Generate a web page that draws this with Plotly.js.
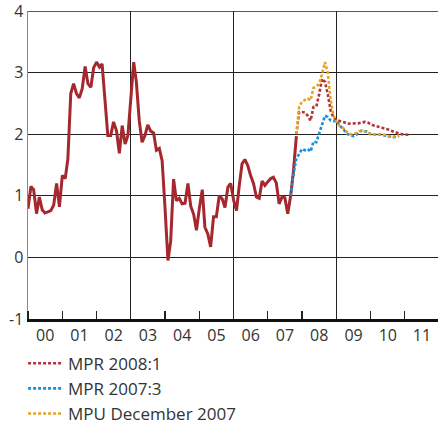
<!DOCTYPE html>
<html>
<head>
<meta charset="utf-8">
<script src="https://cdn.plot.ly/plotly-3.0.1.min.js"></script>
<style>
  html, body { margin: 0; padding: 0; background: #ffffff; }
  #chart { width: 438px; height: 429px; }
</style>
</head>
<body>
<div id="chart"></div>
<script>
// ---- Data (monthly, index 0 = January 2000) ----
const startYear = 2000;

// Outcome (solid red), Jan 2000 onwards
const actualStart = 0;
const actualValues = [
  0.79, 1.15, 1.10, 0.71, 0.98, 0.77, 0.72, 0.74, 0.76, 0.85, 1.20, 0.82,
  1.33, 1.28, 1.60, 2.66, 2.82, 2.66, 2.59, 2.74, 3.10, 2.82, 2.76, 3.08,
  3.17, 3.09, 3.14, 2.55, 1.98, 1.98, 2.20, 2.06, 1.69, 2.14, 1.84, 1.98,
  2.60, 3.17, 2.85, 2.22, 1.87, 1.98, 2.15, 2.05, 2.02, 1.74, 1.77, 1.57,
  0.80, -0.05, 0.26, 1.27, 0.92, 0.96, 0.87, 0.88, 1.20, 0.83, 0.70, 0.44,
  0.80, 1.10, 0.49, 0.38, 0.17, 0.66, 0.66, 1.00, 0.95, 0.81, 1.14, 1.20,
  0.93, 0.76, 1.15, 1.52, 1.59, 1.49, 1.33, 1.20, 0.98, 0.96, 1.24, 1.17,
  1.23, 1.28, 1.30, 1.21, 0.87, 0.98, 0.97, 0.71, 1.00, 1.40, 1.97
];

// MPR 2008:1 forecast (red dotted)
const mpr20081Start = 94;
const mpr20081Values = [
  2.00, 2.36, 2.36, 2.35, 2.30, 2.22, 2.44, 2.45, 2.65, 2.90, 2.85, 2.65,
  2.38, 2.27, 2.23, 2.22, 2.20, 2.19, 2.17, 2.17, 2.17, 2.17, 2.18, 2.19,
  2.20, 2.19, 2.16, 2.14, 2.13, 2.12, 2.11, 2.10, 2.08, 2.06, 2.04, 2.03,
  2.01, 2.00, 1.99, 1.99, 1.99
];

// MPR 2007:3 forecast (blue dotted)
const mpr20073Start = 92;
const mpr20073Values = [
  1.00, 1.35, 1.60, 1.68, 1.76, 1.74, 1.76, 1.72, 1.88, 1.87, 2.00, 2.15,
  2.30, 2.28, 2.22, 2.21, 2.22, 2.15, 2.10, 2.05, 2.00, 1.98, 1.97, 1.99,
  2.04, 2.06, 2.05, 2.04, 2.00, 2.00, 2.00, 2.00, 1.99, 1.98, 1.97, 1.95,
  1.95, 1.96, 1.97
];

// MPU December 2007 forecast (orange dotted)
const mpuDec2007Start = 94;
const mpuDec2007Values = [
  2.00, 2.45, 2.53, 2.55, 2.58, 2.55, 2.75, 2.77, 2.82, 2.98, 3.17, 3.00,
  2.55, 2.30, 2.20, 2.14, 2.12, 2.07, 2.02, 2.00, 2.00, 2.02, 2.05, 2.06,
  2.05, 2.03, 2.00, 2.00, 2.00, 2.00, 2.00, 1.99, 1.97, 1.96, 1.96, 1.97,
  1.98
];

const seriesNames = ["MPR 2008:1", "MPR 2007:3", "MPU December 2007"];
const yTicks = [-1, 0, 1, 2, 3, 4];

// ---- helpers ----
function monthDate(idx) {
  const y = startYear + Math.floor(idx / 12);
  const m = (idx % 12) + 1;
  return y + "-" + (m < 10 ? "0" + m : m) + "-01";
}
function datesFor(start, values) {
  return values.map((_, i) => monthDate(start + i));
}

const red = "#a5282f";
const redDot = "#b2333a";
const blue = "#1b8fd9";
const orange = "#e9a224";
const font = "Open Sans, DejaVu Sans, sans-serif";

const traces = [
  {
    x: datesFor(actualStart, actualValues), y: actualValues,
    type: "scatter", mode: "lines", showlegend: false,
    line: { color: red, width: 3 }, hoverinfo: "skip"
  },
  {
    x: datesFor(mpr20081Start, mpr20081Values), y: mpr20081Values,
    type: "scatter", mode: "lines", name: seriesNames[0],
    line: { color: redDot, width: 2.6, dash: "3px,2px" }
  },
  {
    x: datesFor(mpr20073Start, mpr20073Values), y: mpr20073Values,
    type: "scatter", mode: "lines", name: seriesNames[1],
    line: { color: blue, width: 2.6, dash: "3px,2px" }
  },
  {
    x: datesFor(mpuDec2007Start, mpuDec2007Values), y: mpuDec2007Values,
    type: "scatter", mode: "lines", name: seriesNames[2],
    line: { color: orange, width: 2.6, dash: "3px,2px" }
  }
];

const xRange = ["2000-01-01", "2011-12-20"];
const yRange = [-1, 4];

const layout = {
  width: 438, height: 429,
  margin: { l: 28, r: 0, t: 11, b: 110 },
  paper_bgcolor: "#ffffff", plot_bgcolor: "#ffffff",
  font: { family: font, size: 16, color: "#333333" },
  showlegend: true,
  legend: {
    orientation: "v", x: -0.012, xanchor: "left",
    yref: "container", y: 0.194, yanchor: "top",
    font: { family: font, size: 17, color: "#333333" },
    bgcolor: "rgba(0,0,0,0)", itemwidth: 35
  },
  xaxis: {
    type: "date", range: xRange,
    tick0: "2000-01-01", dtick: "M12", tickformat: "%y",
    ticklabelmode: "period",
    ticks: "inside", ticklen: 8, tickwidth: 1.2, tickcolor: "#222222",
    showgrid: false, zeroline: false,
    showline: true, linecolor: "#111111", linewidth: 3,
    tickfont: { family: font, size: 16, color: "#333333" }
  },
  xaxis2: {
    type: "date", range: xRange, overlaying: "x", side: "bottom",
    tick0: "2000-01-01", dtick: "M36",
    showgrid: true, gridcolor: "#222222", gridwidth: 1.2,
    showticklabels: false, ticks: "", zeroline: false, showline: false
  },
  yaxis: {
    range: yRange, tickvals: yTicks, ticktext: yTicks.map(String),
    showgrid: true, gridcolor: "#222222", gridwidth: 1.3,
    zeroline: false, ticks: "", ticklabeloverflow: "allow",
    showline: true, linecolor: "#8a8a8a", linewidth: 1.5,
    tickfont: { family: font, size: 16, color: "#333333" }
  },
  shapes: [
    { type: "line", xref: "paper", x0: 0, x1: 1, yref: "y", y0: yRange[1], y1: yRange[1],
      line: { color: "#222222", width: 1.5 }, layer: "below" }
  ]
};

// invisible trace to anchor xaxis2
traces.unshift({
  x: [xRange[0]], y: [null], xaxis: "x2", yaxis: "y",
  type: "scatter", mode: "lines", showlegend: false, hoverinfo: "skip"
});

Plotly.newPlot("chart", traces, layout, { displayModeBar: false, staticPlot: true });
</script>
</body>
</html>
